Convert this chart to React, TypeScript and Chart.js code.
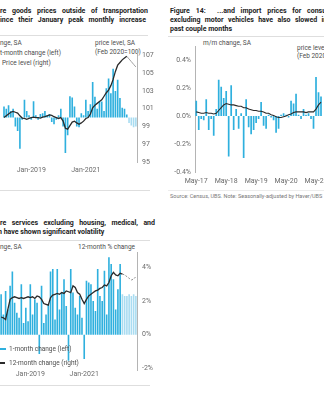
import React, { useEffect, useRef } from "react";
import { Chart, registerables } from "chart.js";
Chart.register(...registerables);

const FONT = "Roboto, 'Open Sans', sans-serif";
const BAR = "#2fb0de";
const BAR_LIGHT = "#a9dcf1";
const LINE = "#2a2a2a";
const TICK = "#6b6b6b";
const TXT = "#4d4d4d";

const MON = ["Jan", "Feb", "Mar", "Apr", "May", "Jun", "Jul", "Aug", "Sep", "Oct", "Nov", "Dec"];
function monthRange(y0: number, m0: number, n: number, short: boolean): string[] {
  const out: string[] = [];
  for (let i = 0; i < n; i++) {
    const m = (m0 + i) % 12;
    const y = y0 + Math.floor((m0 + i) / 12);
    out.push(MON[m] + "-" + (short ? String(y).slice(2) : String(y)));
  }
  return out;
}

// ---------- Top-left: core goods outside transportation ----------
const goodsMonths = monthRange(2018, 0, 59, false);
const goodsTickLabels = ["Jan-2019", "Jan-2021"];
const goodsMoM = [
  0.25, 0.2, 0.28, 0.15, 0.2, -0.2, -0.3, -0.7, -0.05, 0.4,
  0.15, 0.05, -0.05, 0.37, 0.05, -0.05, 0.08, 0.1, 0.15, 0.05,
  0.08, -0.1, -0.15, -0.05, 0.05, 0.2, -0.2, -0.8, -0.4, 0.48,
  0.45, 0.25, -0.2, -0.22, 0.1, 0.05, 0.4, 0.15, 0.3, 0.8,
  0.47, 0.2, 0.36, 0.36, 0.15, 0.66, 0.88, 0.55, 1.1, 0.6,
  0.85, 0.44, 0.22, 0.2, 0.07, -0.12, -0.18, -0.22, -0.2,
];
const goodsProjectedFrom = 55;
const goodsLevel = [
  100.0, 100.2, 100.4, 100.6, 100.7, 100.6, 100.5, 100.2, 99.95, 99.9,
  99.8, 99.9, 100.0, 100.05, 100.0, 100.0, 99.95, 100.05, 100.1, 100.2,
  100.3, 100.25, 100.1, 100.0, 99.9, 100.0, 99.6, 98.8, 98.7, 99.1,
  99.5, 99.6, 99.4, 99.25, 99.4, 99.6, 99.9, 100.0, 100.4, 101.1,
  101.4, 101.6, 101.8, 102.0, 102.4, 102.8, 103.1, 103.6, 104.3, 105.2,
  105.9, 106.2, 106.5, 106.7, 106.9,
];
const goodsLevelProjStart = 54;
const goodsLevelProjection = [106.9, 106.6, 106.3, 106.0, 105.7];
const goodsLevelTicks = [95, 97, 99, 101, 103, 105, 107];

// ---------- Top-right: import prices ----------
const importMonths = monthRange(2017, 4, 51, true);
const importTickLabels = ["May-17", "May-18", "May-19", "May-20", "May-21"];
const importMoM = [
  0.11, -0.10, -0.02, -0.03, 0.12, -0.10, -0.02, -0.14, 0.05, 0.26,
  0.21, 0.13, 0.18, -0.29, 0.22, -0.10, 0.05, -0.09, 0.02, -0.30,
  0.12, -0.08, -0.13, -0.10, -0.05, -0.02, 0.10, -0.07, -0.09, 0.01,
  -0.01, -0.03, -0.12, -0.09, 0.01, 0.02, 0.01, -0.01, 0.11, 0.09,
  0.16, 0.01, -0.02, 0.05, 0.01, 0.02, -0.02, -0.09, 0.28, 0.17,
  0.14,
];
const importLevel = [
  100.3, 100.25, 100.2, 100.2, 100.25, 100.2, 100.2, 100.15, 100.2, 100.4,
  100.6, 100.8, 100.9, 100.85, 100.8, 100.8, 100.75, 100.7, 100.7, 100.6,
  100.6, 100.5, 100.45, 100.4, 100.4, 100.35, 100.35, 100.3, 100.2, 100.2,
  100.1, 100.05, 99.95, 99.9, 99.9, 99.95, 100.0, 100.1, 100.15, 100.25,
  100.3, 100.3, 100.3, 100.3, 100.25, 100.3, 100.3, 100.3, 100.5, 100.8,
  101.0,
];
const importTicks = [-0.4, -0.2, 0, 0.2, 0.4];

// ---------- Bottom-left: core services ex housing, medical ----------
const servMonths = monthRange(2017, 11, 61, false);
const servTickLabels = ["Jan-2019", "Jan-2021"];
const servMoM = [
  0.48, 0.24, 0.52, 0.30, 0.58, 0.75, 0.38, 0.26, 0.20, 0.60,
  0.14, 0.32, 0.16, 0.60, 0.24, 0.42, 0.38, -0.23, 0.58, 0.14,
  0.24, 0.36, 0.75, 0.78, 0.18, 0.78, 0.30, 0.50, 0.66, 0.34,
  -0.31, 0.78, 0.50, 0.32, 0.24, 0.46, 0.20, -0.29, 0.64, 0.62,
  0.60, 0.40, 0.28, 0.78, 0.46, 0.40, 0.76, 0.24, 0.92, 0.84,
  0.66, 0.30, 0.54, 0.84, 0.48, 0.46, 0.46, 0.48, 0.46, 0.48,
  0.46,
];
const servProjectedFrom = 54;
const servYoY = [
  1.05, 1.0, 0.9, 1.5, 2.1, 2.2, 2.25, 2.2, 2.15, 2.2,
  2.15, 2.2, 2.25, 2.2, 2.25, 2.15, 2.3, 2.25, 2.1, 1.85,
  1.8, 1.75, 2.2, 2.35, 2.4, 2.45, 2.4, 2.5, 2.45, 2.6,
  2.55, 2.5, 2.9, 2.8, 2.5, 2.4, 2.1, 1.85, 2.1, 2.3,
  2.4, 2.5, 2.6, 2.65, 2.75, 2.8, 2.95, 2.9, 3.1, 3.5,
  3.7, 3.55, 3.5, 3.65, 3.6,
];
const servYoYProjStart = 54;
const servYoYProjection = [3.6, 3.55, 3.45, 3.35, 3.25, 3.3, 3.45];
const servTicks = [-2, 0, 2, 4];

// ---------- helpers ----------
const tickFont = { family: FONT, size: 7 };

function pad(n: number, start: number, vals: number[]): (number | null)[] {
  const out: (number | null)[] = [];
  for (let i = 0; i < n; i++) out.push(i >= start && i - start < vals.length ? vals[i - start] : null);
  return out;
}

function xAxis(labels: string[], shown: string[], padding: number, height: number) {
  return {
    grid: { display: false, drawTicks: false },
    border: { display: false },
    ticks: {
      autoSkip: false,
      maxRotation: 0,
      minRotation: 0,
      padding,
      font: tickFont,
      color: TICK,
      callback: (_v: any, i: number) => (shown.includes(labels[i]) ? labels[i] : ""),
    },
    afterFit: (s: any) => {
      s.height = height;
    },
  };
}

function valueAxis(position: string, min: number, max: number, ticks: number[], fmt: (v: number) => string, width: number, padding: number) {
  return {
    position,
    min,
    max,
    grid: { display: false, drawTicks: false },
    border: { display: true, color: "#b4b4b4", width: 1 },
    ticks: { padding, font: tickFont, color: TICK, callback: (v: any) => fmt(Number(v)) },
    afterBuildTicks: (s: any) => {
      s.ticks = ticks.map((v) => ({ value: v }));
    },
    afterFit: (s: any) => {
      s.width = width;
    },
  };
}

const baseOptions = (paddingTop: number) => ({
  responsive: false,
  animation: false as const,
  devicePixelRatio: 1,
  layout: { padding: { top: paddingTop, left: 0, right: 0, bottom: 0 } },
  plugins: { legend: { display: false }, tooltip: { enabled: false } },
});

function makeGoods(): any {
  const n = goodsMonths.length;
  return {
    type: "bar",
    data: {
      labels: goodsMonths,
      datasets: [
        { type: "line", data: pad(n, 0, goodsLevel), yAxisID: "yR", borderColor: LINE, borderWidth: 1.3, pointRadius: 0, order: 0 },
        { type: "line", data: pad(n, goodsLevelProjStart, goodsLevelProjection), yAxisID: "yR", borderColor: "#a0a0a0", borderWidth: 1, pointRadius: 0, order: 1 },
        {
          type: "bar",
          data: goodsMoM,
          yAxisID: "yL",
          backgroundColor: goodsMoM.map((_, i) => (i >= goodsProjectedFrom ? BAR_LIGHT : BAR)),
          barPercentage: 0.72,
          categoryPercentage: 1,
          order: 2,
        },
      ],
    },
    options: {
      ...baseOptions(6),
      scales: {
        x: xAxis(goodsMonths, goodsTickLabels, 4, 18),
        yL: { display: false, position: "left", min: -1.0, max: 1.54 },
        yR: valueAxis("right", 95, 107.7, goodsLevelTicks, (v) => String(v), 18, 5),
      },
    },
  };
}

function makeImport(): any {
  return {
    type: "bar",
    data: {
      labels: importMonths,
      datasets: [
        { type: "line", data: importLevel, yAxisID: "y2", borderColor: LINE, borderWidth: 1.1, pointRadius: 0, order: 0 },
        { type: "bar", data: importMoM, yAxisID: "y", backgroundColor: BAR, barPercentage: 0.68, categoryPercentage: 1, order: 1 },
      ],
    },
    options: {
      ...baseOptions(5),
      scales: {
        x: xAxis(importMonths, importTickLabels, 5, 18),
        y: valueAxis("left", -0.4, 0.5, importTicks, (v) => v.toFixed(1) + "%", 35, 4),
        y2: { display: false, position: "right", min: 96, max: 105 },
      },
    },
  };
}

function makeServ(): any {
  const n = servMonths.length;
  return {
    type: "bar",
    data: {
      labels: servMonths,
      datasets: [
        { type: "line", data: pad(n, 0, servYoY), yAxisID: "yR", borderColor: LINE, borderWidth: 1.3, pointRadius: 0, order: 0 },
        { type: "line", data: pad(n, servYoYProjStart, servYoYProjection), yAxisID: "yR", borderColor: "#8a8a8a", borderWidth: 1, borderDash: [2, 1.5], pointRadius: 0, order: 1 },
        {
          type: "bar",
          data: servMoM,
          yAxisID: "yL",
          backgroundColor: servMoM.map((_, i) => (i >= servProjectedFrom ? BAR_LIGHT : BAR)),
          barPercentage: 0.72,
          categoryPercentage: 1,
          order: 2,
        },
      ],
    },
    options: {
      ...baseOptions(5),
      scales: {
        x: xAxis(servMonths, servTickLabels, 0, 12),
        yL: { display: false, position: "left", min: -0.42, max: 0.98 },
        yR: valueAxis("right", -2.1, 4.9, servTicks, (v) => v + "%", 18, 5),
      },
    },
  };
}

function ChartBox({ left, top, width, height, make }: { left: number; top: number; width: number; height: number; make: () => any }) {
  const ref = useRef<HTMLCanvasElement | null>(null);
  useEffect(() => {
    if (!ref.current) return;
    const chart = new Chart(ref.current, make());
    return () => chart.destroy();
  }, []);
  return <canvas ref={ref} width={width} height={height} style={{ position: "absolute", left, top, width, height }} />;
}

function Txt({ x, y, s = 6.5, b = false, c = TXT, w, j = false, ws, children }: any) {
  const lh = s + 2;
  return (
    <div
      style={{
        position: "absolute",
        left: x,
        top: y - lh / 2,
        fontSize: s,
        lineHeight: lh + "px",
        fontWeight: b ? 700 : 400,
        color: c,
        whiteSpace: "nowrap",
        width: w,
        textAlign: j ? "justify" : "left",
        textAlignLast: j ? "justify" : "auto",
        wordSpacing: ws,
        fontFamily: FONT,
      } as any}
    >
      {children}
    </div>
  );
}

function HLine({ x, y, w, c = "#dedede" }: any) {
  return <div style={{ position: "absolute", left: x, top: y, width: w, height: 1, background: c }} />;
}

export default function App() {
  return (
    <div style={{ position: "absolute", left: 0, top: 0, width: 324, height: 400, overflow: "hidden", background: "#fff", fontFamily: FONT }}>
      {/* Top-left */}
      <Txt x={0} y={11} s={7} b c="#222" w={148} j>re goods prices outside of transportation</Txt>
      <Txt x={0} y={20} s={7} b c="#222" w={146} j>ince their January peak monthly increase</Txt>
      <HLine x={0} y={35} w={148} />
      <Txt x={0} y={43}>nge, SA</Txt>
      <Txt x={0} y={53}>t-month change (left)</Txt>
      <Txt x={2} y={63}>Price level (right)</Txt>
      <Txt x={95} y={43}>price level, SA</Txt>
      <Txt x={95} y={52}>(Feb 2020=100)</Txt>
      <ChartBox left={0} top={40} width={155} height={140} make={makeGoods} />
      <HLine x={0} y={190} w={150} />

      {/* Top-right */}
      <Txt x={170} y={11} s={7} b c="#222" ws={4}>Figure 14:&nbsp;&nbsp;...and import prices for consumer</Txt>
      <Txt x={170} y={20} s={7} b c="#222" ws={2.6}>excluding motor vehicles have also slowed in the</Txt>
      <Txt x={170} y={29} s={7} b c="#222">past couple months</Txt>
      <HLine x={168} y={36} w={160} />
      <Txt x={203} y={43}>m/m change, SA</Txt>
      <Txt x={297} y={48}>price level, SA</Txt>
      <Txt x={297} y={56}>(Feb 2020=100)</Txt>
      <ChartBox left={160} top={38} width={166} height={152} make={makeImport} />
      <HLine x={168} y={190} w={160} c="#ececec" />
      <Txt x={170} y={197} s={5.5} c="#777">Source: Census, UBS. Note: Seasonally-adjusted by Haver/UBS</Txt>

      {/* Bottom-left */}
      <Txt x={0} y={223} s={7} b c="#222" w={155} j>re services excluding housing, medical, and</Txt>
      <Txt x={-2} y={232} s={7} b c="#222">n have shown significant volatility</Txt>
      <HLine x={0} y={240} w={150} />
      <Txt x={0} y={247}>nge, SA</Txt>
      <Txt x={78} y={247}>12-month % change</Txt>
      <ChartBox left={0} top={243} width={155} height={139} make={makeServ} />
      <div style={{ position: "absolute", left: 0, top: 348, width: 6, height: 2, background: BAR }} />
      <Txt x={9} y={349}>1-month change (left)</Txt>
      <div style={{ position: "absolute", left: 0, top: 362, width: 5, height: 1.5, background: LINE }} />
      <Txt x={9} y={363}>12-month change (right)</Txt>
      <HLine x={0} y={385} w={150} />
    </div>
  );
}
